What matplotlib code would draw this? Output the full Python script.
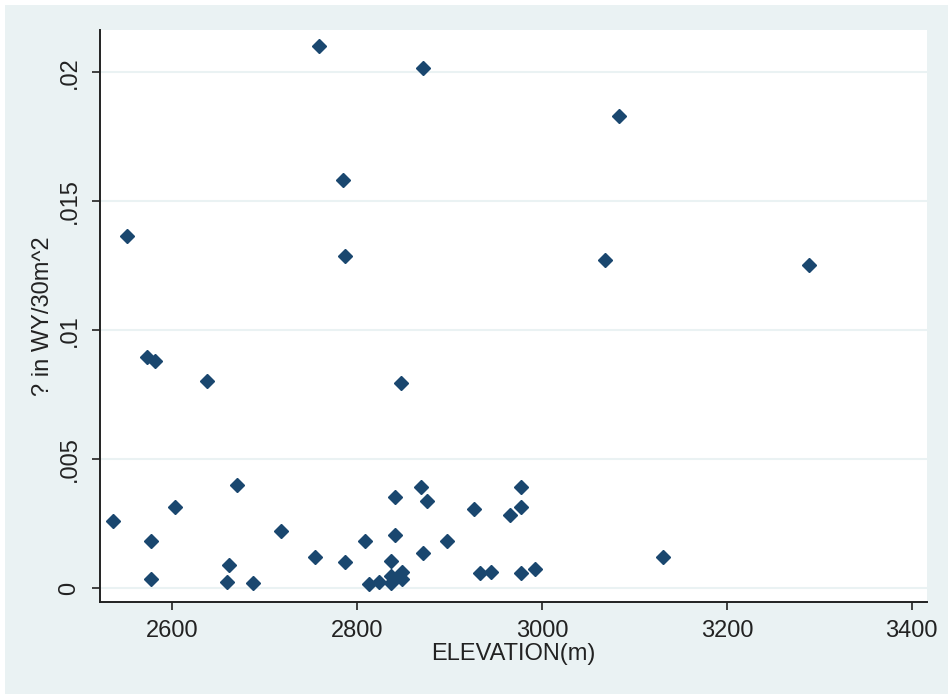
import matplotlib
matplotlib.use('Agg')
import matplotlib.pyplot as plt
from matplotlib.patches import Rectangle

plt.rcParams['font.family'] = ['Liberation Sans', 'DejaVu Sans']

# elevation (m) and value per water year
elevation = [2759, 2871, 3083, 2785, 2787, 3068, 3289, 2551, 2573, 2582,
             2637.5, 2848, 2536, 2577, 2577, 2603, 2670, 2661, 2659, 2688,
             2718, 2755, 2787, 2809, 2813, 2824, 2836.5, 2836.5, 2836.5, 2841,
             2841, 2849, 2849, 2869, 2875.5, 2871.5, 2897, 2927, 2933, 2945,
             2966, 2977, 2977, 2977, 2993, 3131]
value = [0.02103, 0.02017, 0.0183, 0.01581, 0.01287, 0.01271, 0.01254, 0.01366, 0.00898, 0.00881,
         0.00804, 0.00797, 0.00261, 0.00182, 0.00035, 0.00314, 0.00399, 0.0009, 0.00026, 0.00019,
         0.00221, 0.00121, 0.00103, 0.00183, 0.00016, 0.00023, 0.00105, 0.00048, 0.00019, 0.00205,
         0.00353, 0.00064, 0.00035, 0.00391, 0.00338, 0.00136, 0.00182, 0.00307, 0.00058, 0.00064,
         0.00283, 0.00391, 0.00314, 0.00058, 0.00074, 0.00121]

x_ticks = [2600, 2800, 3000, 3200, 3400]
y_ticks = [0, 0.005, 0.01, 0.015, 0.02]
y_tick_labels = ['0', '.005', '.01', '.015', '.02']

bg = '#eaf2f3'
navy = '#1a476f'
dark = '#222222'

fig = plt.figure(figsize=(9.48, 6.94), dpi=100, facecolor='white')
fig.patches.append(Rectangle((5 / 948, 0), 1, 1 - 5 / 694, transform=fig.transFigure,
                             facecolor=bg, edgecolor='none', zorder=-10))

ax = fig.add_axes([100 / 948, 92 / 694, 827 / 948, 572 / 694])
ax.set_facecolor('white')

ax.plot(elevation, value, linestyle='none', marker='D', markersize=7.5,
        color=navy, markeredgecolor=navy, zorder=3)

ax.set_xlim(2522, 3416.5)
ax.set_ylim(-0.00053, 0.02164)

ax.set_xticks(x_ticks)
ax.set_yticks(y_ticks)
ax.set_yticklabels(y_tick_labels)
for lbl in ax.get_yticklabels():
    lbl.set_rotation(90)
    lbl.set_va('center')

ax.yaxis.grid(True, color=bg, linewidth=1.5)
ax.set_axisbelow(True)

for side in ['top', 'right']:
    ax.spines[side].set_visible(False)
for side in ['left', 'bottom']:
    ax.spines[side].set_color(dark)
    ax.spines[side].set_linewidth(1.4)

ax.tick_params(axis='both', direction='out', length=6, width=1.2, color=dark,
               labelsize=17, labelcolor=dark)
ax.tick_params(axis='x', pad=7)
ax.tick_params(axis='y', pad=8)

ax.set_xlabel('ELEVATION(m)', fontsize=17, color=dark, labelpad=1)
ax.set_ylabel('? in WY/30m^2', fontsize=17, color=dark, labelpad=3)

fig.savefig('out.png', dpi=100, facecolor='white')
